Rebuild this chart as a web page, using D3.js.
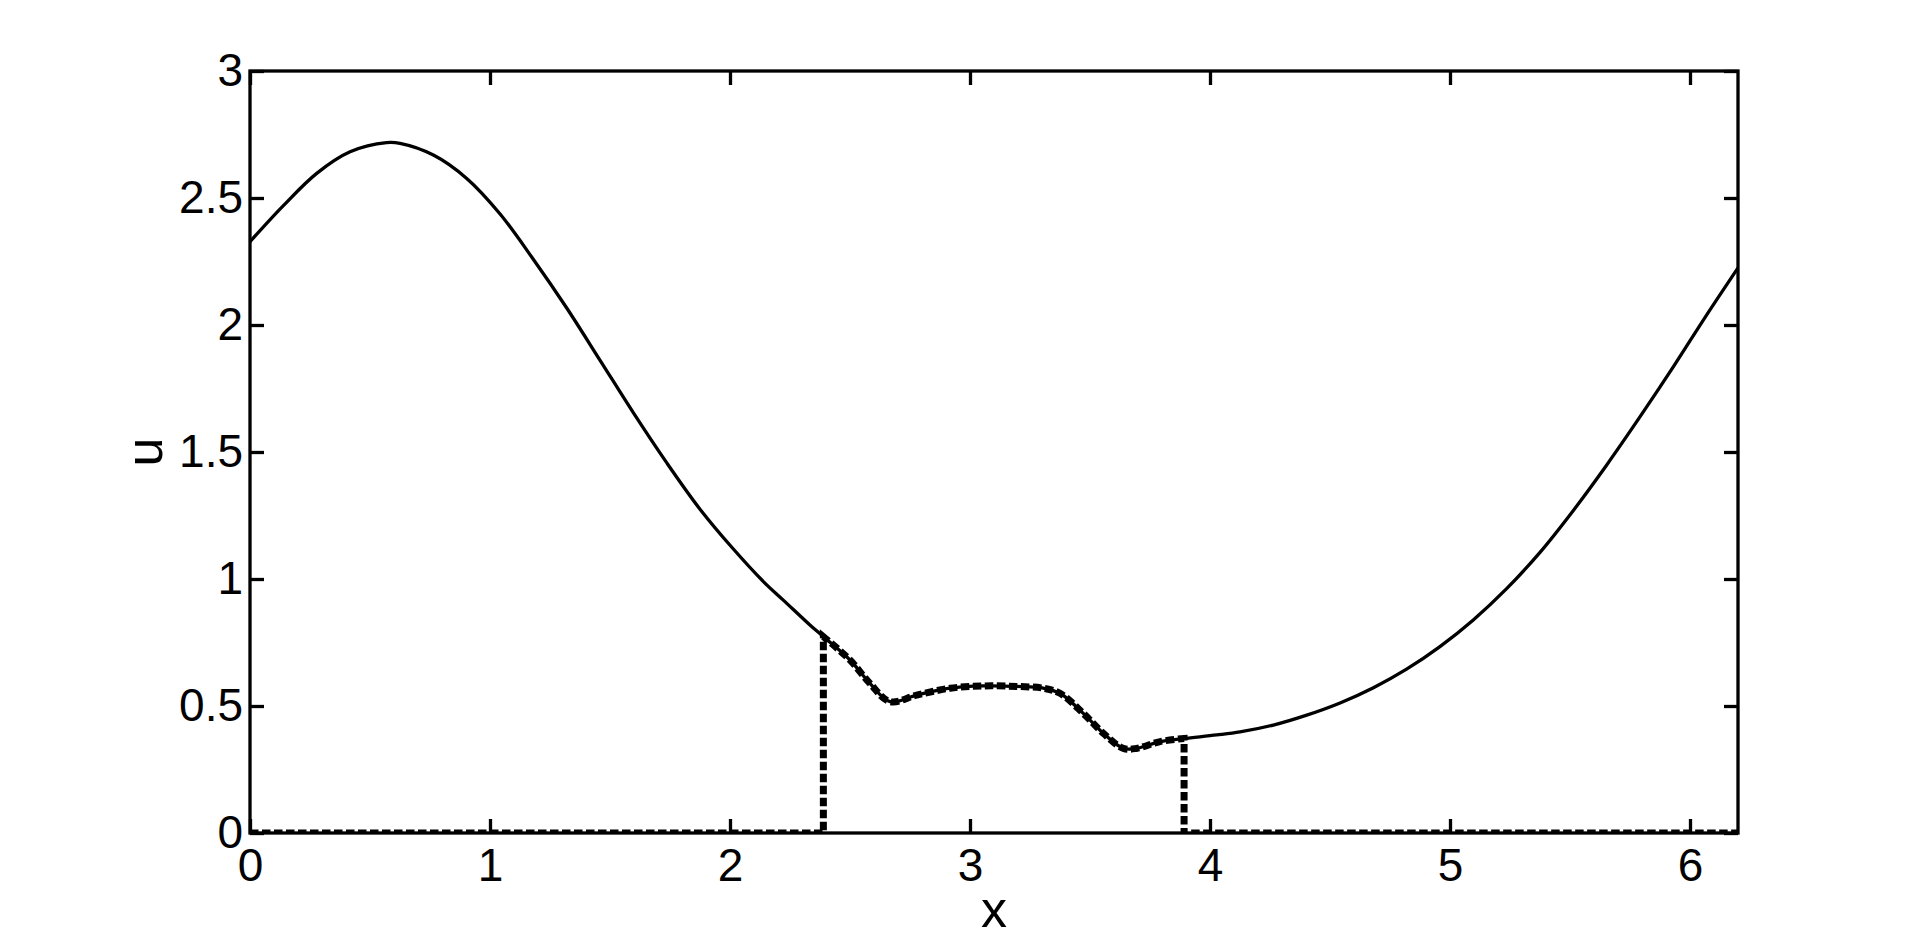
<!DOCTYPE html>
<html>
<head>
<meta charset="utf-8">
<script src="https://cdnjs.cloudflare.com/ajax/libs/d3/7.8.5/d3.min.js"></script>
<style>
  body { margin: 0; background: #fff; }
  svg { display: block; }
  text { font-family: "Liberation Sans", Arial, Helvetica, sans-serif; fill: #000; }
</style>
</head>
<body>
<svg id="chart" width="1920" height="940"></svg>
<script>
// solid curve u(x)
const curveX = [0, 0.139, 0.278, 0.417, 0.569, 0.625, 0.764, 0.903, 1.042, 1.181, 1.319, 1.458, 1.597, 1.736, 1.875,
  2.014, 2.139, 2.222, 2.333, 2.389, 2.5, 2.583, 2.667, 2.778, 2.917, 3.056, 3.194, 3.306, 3.375, 3.472, 3.556, 3.639,
  3.694, 3.792, 3.892, 4.028, 4.125, 4.264, 4.403, 4.542, 4.681, 4.819, 4.958, 5.097, 5.236, 5.375, 5.514, 5.653,
  5.792, 5.931, 6.069, 6.2];
const curveU = [2.328, 2.47, 2.597, 2.682, 2.718, 2.715, 2.669, 2.577, 2.437, 2.258, 2.068, 1.862, 1.655, 1.458, 1.275,
  1.118, 0.990, 0.917, 0.819, 0.773, 0.681, 0.589, 0.517, 0.543, 0.570, 0.579, 0.577, 0.570, 0.550, 0.471, 0.392, 0.333,
  0.333, 0.360, 0.372, 0.386, 0.398, 0.425, 0.464, 0.512, 0.572, 0.645, 0.734, 0.839, 0.962, 1.105, 1.270, 1.449,
  1.639, 1.836, 2.039, 2.225];

// dashed line: zero outside [a, b], follows the curve inside
const dashLeftX = [0, 2.389, 2.389];
const dashLeftU = [0, 0, 0.773];
const dashMidX = [2.389, 2.5, 2.583, 2.667, 2.778, 2.917, 3.056, 3.194, 3.306, 3.375, 3.472, 3.556, 3.639, 3.694, 3.792, 3.892];
const dashMidU = [0.773, 0.681, 0.589, 0.517, 0.543, 0.570, 0.579, 0.577, 0.570, 0.550, 0.471, 0.392, 0.333, 0.333, 0.360, 0.372];
const dashRightX = [3.892, 3.892, 6.2];
const dashRightU = [0.372, 0, 0];

const xTicks = [0, 1, 2, 3, 4, 5, 6];
const yTicks = [0, 0.5, 1, 1.5, 2, 2.5, 3];
const yTickLabels = ["0", "0.5", "1", "1.5", "2", "2.5", "3"];

const margin = {left: 250, right: 182, top: 71, bottom: 107};
const W = 1920, H = 940;
const pw = W - margin.left - margin.right;
const ph = H - margin.top - margin.bottom;

const svg = d3.select("#chart");
const g = svg.append("g").attr("transform", "translate(" + margin.left + "," + margin.top + ")");

const x = d3.scaleLinear().domain([0, 6.2]).range([0, pw]);
const y = d3.scaleLinear().domain([0, 3]).range([ph, 0]);

svg.append("defs").append("clipPath").attr("id", "plotclip")
  .append("rect").attr("width", pw).attr("height", ph);

const zip = (xs, ys) => xs.map((v, i) => [v, ys[i]]);

const smooth = d3.line().x(d => x(d[0])).y(d => y(d[1])).curve(d3.curveCatmullRom.alpha(0.5));
const straight = d3.line().x(d => x(d[0])).y(d => y(d[1]));

// solid curve
g.append("path")
  .attr("clip-path", "url(#plotclip)")
  .attr("d", smooth(zip(curveX, curveU)))
  .attr("fill", "none")
  .attr("stroke", "#000")
  .attr("stroke-width", 3.3);

// dashed profile
const dPath = straight(zip(dashLeftX, dashLeftU))
  + smooth(zip(dashMidX, dashMidU)).replace(/^M/, "L")
  + straight(zip(dashRightX, dashRightU)).replace(/^M/, "L");

g.append("path")
  .attr("clip-path", "url(#plotclip)")
  .attr("d", dPath)
  .attr("fill", "none")
  .attr("stroke", "#000")
  .attr("stroke-width", 7)
  .attr("stroke-dasharray", "8.5,3.5");

// axes, ticks pointing inward on all four sides
const tickLen = 14;
const fontTick = 46;

const xb = g.append("g").attr("transform", "translate(0," + ph + ")")
  .call(d3.axisBottom(x).tickValues(xTicks).tickSize(-tickLen).tickPadding(15).tickFormat(d3.format("d")));
const xt = g.append("g")
  .call(d3.axisTop(x).tickValues(xTicks).tickSize(-tickLen).tickFormat(""));
const yl = g.append("g")
  .call(d3.axisLeft(y).tickValues(yTicks).tickSize(-tickLen).tickPadding(7).tickFormat((d, i) => yTickLabels[i]));
const yr = g.append("g").attr("transform", "translate(" + pw + ",0)")
  .call(d3.axisRight(y).tickValues(yTicks).tickSize(-tickLen).tickFormat(""));

[xb, xt, yl, yr].forEach(a => {
  a.select(".domain").remove();
  a.selectAll(".tick line").attr("stroke", "#000").attr("stroke-width", 3.3);
  a.selectAll(".tick text").attr("font-size", fontTick)
    .attr("font-family", "'Liberation Sans', Arial, sans-serif").attr("fill", "#000");
});

// box
g.append("rect")
  .attr("width", pw).attr("height", ph)
  .attr("fill", "none").attr("stroke", "#000").attr("stroke-width", 3.3);

// axis titles
svg.append("text")
  .attr("x", margin.left + pw / 2).attr("y", 927)
  .attr("text-anchor", "middle").attr("font-size", 52)
  .text("x");

svg.append("text")
  .attr("transform", "translate(162," + (margin.top + ph / 2) + ") rotate(-90)")
  .attr("text-anchor", "middle").attr("font-size", 52)
  .text("u");
</script>
</body>
</html>
